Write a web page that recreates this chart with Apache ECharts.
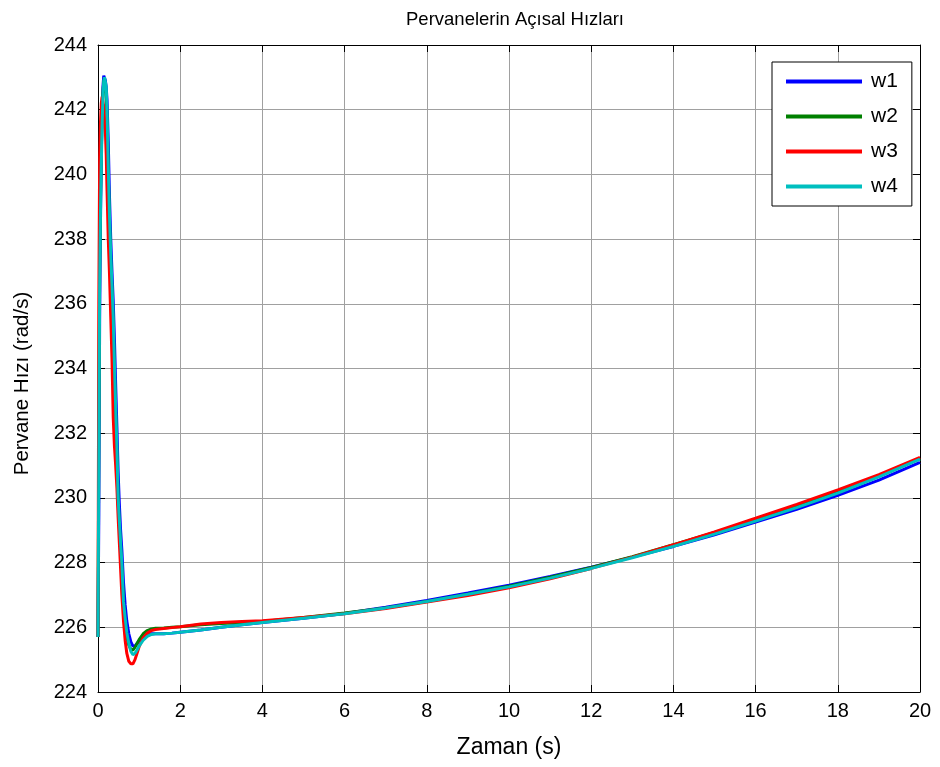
<!DOCTYPE html>
<html>
<head>
<meta charset="utf-8">
<script src="https://cdn.jsdelivr.net/npm/echarts@6/dist/echarts.min.js"></script>
<style>html,body{margin:0;padding:0;background:#fff}#c{width:940px;height:767px}</style>
</head>
<body>
<div id="c"></div>
<script>
const titleText = 'Pervanelerin Açısal Hızları';
const xName = 'Zaman (s)';
const yName = 'Pervane Hızı (rad/s)';
const seriesNames = ['w1', 'w2', 'w3', 'w4'];
const seriesColors = ['#0000ff', '#008000', '#ff0000', '#00bfbf'];

const t = [0, 0.02, 0.04, 0.06, 0.08, 0.1, 0.12, 0.14, 0.16, 0.18, 0.2, 0.22, 0.25, 0.28, 0.31, 0.34, 0.37, 0.4, 0.43, 0.46, 0.49, 0.52, 0.55, 0.58, 0.62, 0.66, 0.7, 0.75, 0.8, 0.85, 0.9, 0.95, 1.0, 1.1, 1.2, 1.3, 1.4, 1.6, 1.8, 2.0, 2.5, 3, 3.5, 4, 5, 6, 7, 8, 9, 10, 11, 12, 13, 14, 15, 16, 17, 18, 19, 20];

const w1 = [225.7, 229.5, 235.5, 238.5, 240.5, 241.9, 242.7, 243.05, 243.05, 242.9, 242.7, 242.3, 241.0, 239.3, 238.0, 237.0, 236.1, 234.9, 233.5, 232.2, 230.8, 229.8, 229.0, 228.4, 227.4, 226.7, 226.2, 225.8, 225.55, 225.42, 225.42, 225.5, 225.58, 225.7, 225.78, 225.8, 225.8, 225.8, 225.82, 225.85, 225.92, 226.0, 226.08, 226.15, 226.28, 226.43, 226.62, 226.83, 227.06, 227.3, 227.57, 227.86, 228.17, 228.5, 228.86, 229.25, 229.65, 230.08, 230.55, 231.1];
const w2 = [225.7, 232, 237, 239.2, 240.7, 241.8, 242.5, 242.9, 242.95, 242.85, 242.5, 241.7, 240.0, 238.5, 237.3, 236.4, 235.3, 233.8, 232.5, 231.3, 229.9, 229.1, 228.4, 227.8, 226.7, 226.1, 225.7, 225.45, 225.32, 225.3, 225.38, 225.5, 225.62, 225.8, 225.9, 225.95, 225.97, 225.98, 226.0, 226.02, 226.08, 226.12, 226.15, 226.18, 226.3, 226.44, 226.6, 226.8, 227.02, 227.27, 227.55, 227.85, 228.18, 228.55, 228.93, 229.33, 229.75, 230.2, 230.68, 231.22];
const w3 = [225.7, 236, 240.5, 241.6, 242.2, 242.4, 242.35, 242.1, 241.7, 241.3, 240.6, 239.5, 238.0, 236.9, 235.6, 234.3, 232.5, 231.6, 231.0, 230.3, 229.4, 228.6, 227.8, 227.0, 226.2, 225.6, 225.2, 224.95, 224.87, 224.87, 225.0, 225.2, 225.4, 225.68, 225.82, 225.9, 225.93, 225.96, 225.99, 226.02, 226.1, 226.15, 226.18, 226.2, 226.3, 226.42, 226.58, 226.78, 226.98, 227.22, 227.5, 227.82, 228.17, 228.55, 228.95, 229.37, 229.8, 230.25, 230.72, 231.25];
const w4 = [225.7, 231, 236.5, 238.8, 240.3, 241.5, 242.4, 242.9, 243.0, 242.95, 242.7, 242.0, 240.2, 238.7, 237.5, 236.6, 235.6, 234.1, 232.8, 231.6, 230.0, 229.3, 228.6, 228.0, 226.8, 226.3, 225.85, 225.5, 225.25, 225.15, 225.2, 225.3, 225.42, 225.6, 225.72, 225.78, 225.8, 225.8, 225.82, 225.85, 225.92, 226.0, 226.08, 226.15, 226.28, 226.42, 226.6, 226.8, 227.02, 227.25, 227.52, 227.82, 228.15, 228.5, 228.88, 229.28, 229.7, 230.15, 230.65, 231.2];

const values = [w1, w2, w3, w4];
const FONT = 'Liberation Sans, Arial, sans-serif';

const chart = echarts.init(document.getElementById('c'), null, {renderer: 'canvas'});
const tickStyle = {show: true, inside: true, length: 7, lineStyle: {color: '#000', width: 1}};
const gridLine = {show: true, lineStyle: {color: '#a0a0a0', width: 1}};

chart.setOption({
  backgroundColor: '#fff',
  animation: false,
  title: {
    text: titleText, left: 510, top: 5, textAlign: 'center',
    textStyle: {fontFamily: FONT, fontSize: 18.5, fontWeight: 'normal', color: '#000'}
  },
  grid: {left: 98, right: 20, top: 45, bottom: 75, containLabel: false},
  legend: {
    data: seriesNames, orient: 'vertical', left: 772, top: 62,
    padding: [9, 14, 9, 14], itemGap: 14, itemWidth: 76, itemHeight: 4,
    icon: 'rect', borderColor: '#000', borderWidth: 1, backgroundColor: '#fff',
    textStyle: {fontFamily: FONT, fontSize: 21, color: '#000', lineHeight: 21, padding: [0, 0, 0, 4]}
  },
  xAxis: [{
    type: 'value', min: 0, max: 20, interval: 2,
    name: xName, nameLocation: 'middle', nameGap: 44,
    nameTextStyle: {fontFamily: FONT, fontSize: 23, color: '#000'},
    axisLine: {show: true, onZero: false, lineStyle: {color: '#000', width: 1}},
    axisTick: tickStyle,
    axisLabel: {fontFamily: FONT, fontSize: 20, color: '#000', margin: 9},
    splitLine: gridLine
  }, {
    type: 'value', min: 0, max: 20, interval: 2, position: 'top',
    axisLine: {show: true, onZero: false, lineStyle: {color: '#000', width: 1}},
    axisTick: tickStyle, axisLabel: {show: false}, splitLine: {show: false}
  }],
  yAxis: [{
    type: 'value', min: 224, max: 244, interval: 2,
    name: yName, nameLocation: 'middle', nameGap: 65, nameRotate: 90,
    nameTextStyle: {fontFamily: FONT, fontSize: 20.5, color: '#000', padding: [0, 30, 0, 0]},
    axisLine: {show: true, onZero: false, lineStyle: {color: '#000', width: 1}},
    axisTick: tickStyle,
    axisLabel: {fontFamily: FONT, fontSize: 20, color: '#000', margin: 11},
    splitLine: gridLine
  }, {
    type: 'value', min: 224, max: 244, interval: 2, position: 'right',
    axisLine: {show: true, onZero: false, lineStyle: {color: '#000', width: 1}},
    axisTick: tickStyle, axisLabel: {show: false}, splitLine: {show: false}
  }],
  series: seriesNames.map((n, i) => ({
    name: n, type: 'line', xAxisIndex: 0, yAxisIndex: 0,
    data: t.map((x, k) => [x, values[i][k]]),
    symbol: 'none', showSymbol: false,
    lineStyle: {color: seriesColors[i], width: 3},
    itemStyle: {color: seriesColors[i]},
    z: 2 + i
  }))
});
</script>
</body>
</html>
